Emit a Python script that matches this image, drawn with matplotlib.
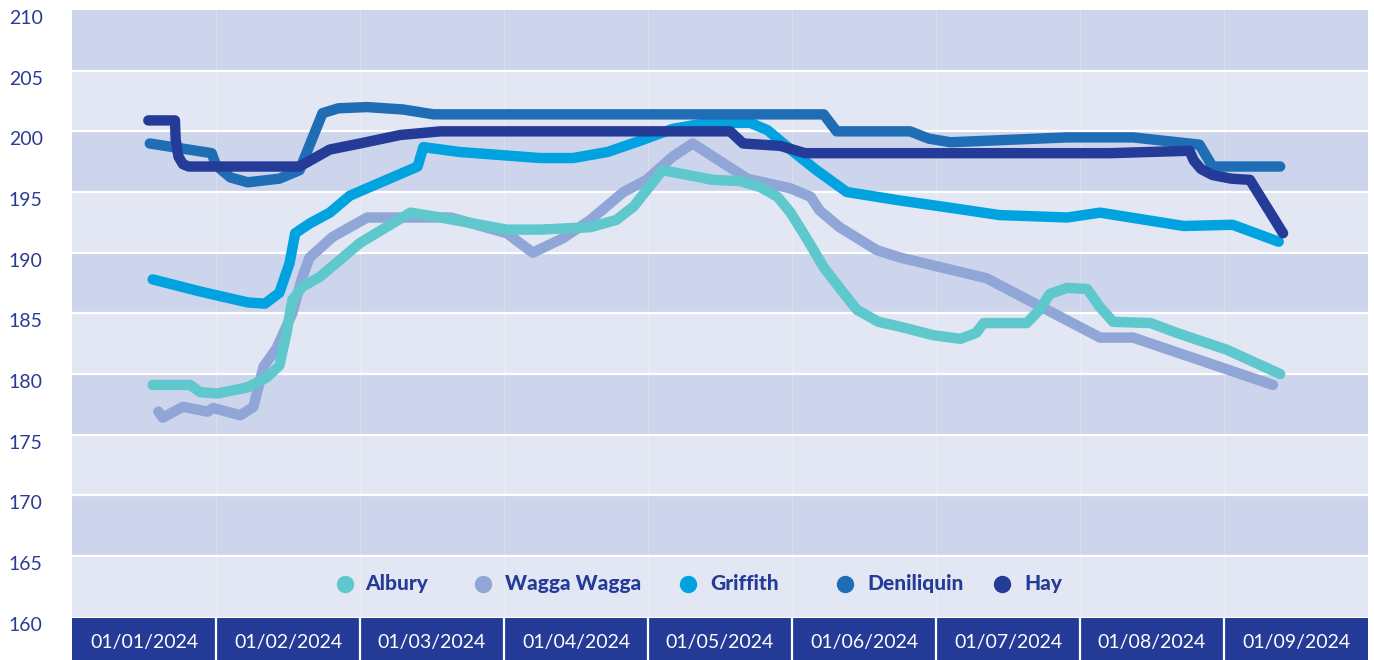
import matplotlib.pyplot as plt
import matplotlib.transforms as mtransforms
import numpy as np

plt.rcParams['font.family'] = ['Lato', 'DejaVu Sans']

# month labels (one cell per month), x data in month-index units
months = ['01/01/2024', '01/02/2024', '01/03/2024', '01/04/2024', '01/05/2024',
          '01/06/2024', '01/07/2024', '01/08/2024', '01/09/2024']
yticks = [160, 165, 170, 175, 180, 185, 190, 195, 200, 205, 210]

albury_x = [0.06, 0.32, 0.39, 0.51, 0.72, 0.85, 0.94, 0.99, 1.03, 1.10, 1.22, 1.50, 1.85,
            2.06, 2.52, 2.75, 3.10, 3.28, 3.40, 3.60, 3.95, 4.14, 4.28, 4.40, 4.49, 4.60, 4.72,
            4.85, 4.95, 5.10, 5.25, 5.48, 5.67, 5.78, 5.83, 6.13, 6.22, 6.29, 6.41, 6.55, 6.64,
            6.73, 6.99, 7.17, 7.52, 7.89]
albury_y = [179.1, 179.1, 178.5, 178.4, 178.9, 179.7, 180.7, 183.4, 186.1, 187.2, 188.0, 190.8, 193.3,
            192.9, 191.9, 191.9, 192.1, 192.7, 193.8, 196.8, 196.0, 195.9, 195.4, 194.6, 193.3, 191.2, 188.8,
            186.8, 185.3, 184.3, 183.9, 183.2, 182.9, 183.4, 184.2, 184.2, 185.3, 186.6, 187.1, 187.0, 185.5,
            184.3, 184.2, 183.4, 182.0, 180.0]

wagga_x = [0.10, 0.13, 0.27, 0.44, 0.48, 0.67, 0.76, 0.83, 0.92, 1.03, 1.10, 1.15, 1.31,
           1.55, 2.13, 2.52, 2.70, 2.91, 3.10, 3.33, 3.49, 3.67, 3.81, 4.02, 4.19, 4.49,
           4.63, 4.69, 4.83, 5.09, 5.25, 5.85, 6.64, 6.87, 7.84]
wagga_y = [176.9, 176.4, 177.3, 176.9, 177.2, 176.6, 177.3, 180.6, 182.1, 185.0, 188.0, 189.6, 191.3,
           192.9, 192.9, 191.6, 190.0, 191.2, 192.7, 195.0, 196.0, 197.9, 199.0, 197.4, 196.1, 195.3,
           194.6, 193.5, 192.1, 190.2, 189.6, 187.9, 183.0, 183.0, 179.1]

griffith_x = [0.06, 0.39, 0.72, 0.84, 0.94, 1.01, 1.05, 1.15, 1.29, 1.43, 1.90, 1.94, 2.19,
              2.75, 2.98, 3.22, 3.44, 3.67, 3.91, 4.21, 4.33, 4.49, 4.67, 4.88, 5.25, 5.60,
              5.94, 6.41, 6.64, 7.22, 7.56, 7.88]
griffith_y = [187.8, 186.8, 185.9, 185.8, 186.7, 189.1, 191.6, 192.4, 193.3, 194.7, 197.1, 198.7, 198.3,
              197.8, 197.8, 198.3, 199.2, 200.2, 200.7, 200.7, 200.1, 198.5, 196.8, 195.0, 194.3, 193.7,
              193.1, 192.9, 193.3, 192.2, 192.3, 190.9]

deni_x = [0.04, 0.47, 0.50, 0.60, 0.72, 0.94, 1.08, 1.24, 1.35, 1.55, 1.80, 2.01, 4.72,
          4.81, 5.32, 5.45, 5.60, 6.41, 6.87, 7.33, 7.42, 7.89]
deni_y = [199.0, 198.2, 197.2, 196.2, 195.8, 196.1, 196.8, 201.5, 201.9, 202.0, 201.8, 201.4, 201.4,
          200.0, 200.0, 199.4, 199.1, 199.5, 199.5, 198.9, 197.1, 197.1]

hay_x = [0.03, 0.215, 0.22, 0.24, 0.27, 0.31, 1.08, 1.29, 1.50, 1.78, 2.06, 4.07, 4.16, 4.42,
         4.59, 6.71, 7.26, 7.29, 7.34, 7.42, 7.55, 7.68, 7.91]
hay_y = [200.9, 200.9, 199.3, 197.9, 197.3, 197.1, 197.1, 198.5, 199.0, 199.7, 200.0, 200.0, 199.0, 198.8,
         198.2, 198.2, 198.4, 197.6, 196.9, 196.4, 196.1, 196.0, 191.6]

names = ['Albury', 'Wagga Wagga', 'Griffith', 'Deniliquin', 'Hay']
colors = ['#5ec8cc', '#8fa6d6', '#00a3e0', '#1e6db5', '#253b98']
series = [(albury_x, albury_y), (wagga_x, wagga_y), (griffith_x, griffith_y),
          (deni_x, deni_y), (hay_x, hay_y)]
zorders = [4, 3, 5, 6, 7]

dark_band = '#cdd5ed'
light_band = '#e3e7f4'
navy = '#253b98'

fig = plt.figure(figsize=(13.74, 6.6), dpi=100)
ax = fig.add_axes([72/1374, 1 - 616.7/660, 1296/1374, 606.7/660])
bar = fig.add_axes([72/1374, 0, 1296/1374, 42/660])

# alternating bands
for i, lo in enumerate(yticks[:-1]):
    c = light_band if i % 2 == 0 else dark_band
    ax.axhspan(lo, lo + 5, color=c, lw=0, zorder=0)
for t in yticks[1:-1]:
    ax.axhline(t, color='white', lw=1.6, zorder=1)
for b in np.arange(0.5, len(months) - 1, 1):
    ax.axvline(b, color='white', lw=0.6, alpha=0.3, zorder=1)

for (x, y), c, z in zip(series, colors, zorders):
    ax.plot(x, y, color=c, lw=7.5, solid_capstyle='round', solid_joinstyle='round', zorder=z)

ax.set_xlim(-0.5, len(months) - 0.5)
ax.set_ylim(160, 210)
ax.set_xticks([])
ax.set_yticks(yticks)
ax.set_yticklabels([str(t) for t in yticks], fontsize=14, color='#2b3b95')
ax.tick_params(axis='y', length=0, pad=21)
# labels sit a little below their gridlines
shift = mtransforms.ScaledTranslation(0, -7/100, fig.dpi_scale_trans)
for lab in ax.get_yticklabels():
    lab.set_transform(lab.get_transform() + shift)
for s in ax.spines.values():
    s.set_visible(False)

# legend drawn by hand to keep its spacing
leg_marker = [345, 483, 688, 845, 1002]
leg_text = [365, 505, 710, 867, 1024]
for name, c, mx, tx in zip(names, colors, leg_marker, leg_text):
    ax.plot((mx - 72) / 1296, 0.054, 'o', ms=11.5, color=c, transform=ax.transAxes,
            clip_on=False, zorder=8)
    ax.text((tx - 72) / 1296, 0.054, name, transform=ax.transAxes, fontsize=15,
            fontweight='black', color=navy, va='center', ha='left', zorder=8)

# month bar at the bottom
bar.set_xlim(-0.5, len(months) - 0.5)
bar.set_ylim(0, 1)
bar.set_facecolor(navy)
for b in np.arange(0.5, len(months) - 1, 1):
    bar.axvline(b, color='white', lw=1.6)
for i, m in enumerate(months):
    bar.text(i, 0.42, m, color='white', fontsize=14, ha='center', va='center')
bar.set_xticks([])
bar.set_yticks([])
for s in bar.spines.values():
    s.set_visible(False)

fig.savefig('out.png', dpi=100)
